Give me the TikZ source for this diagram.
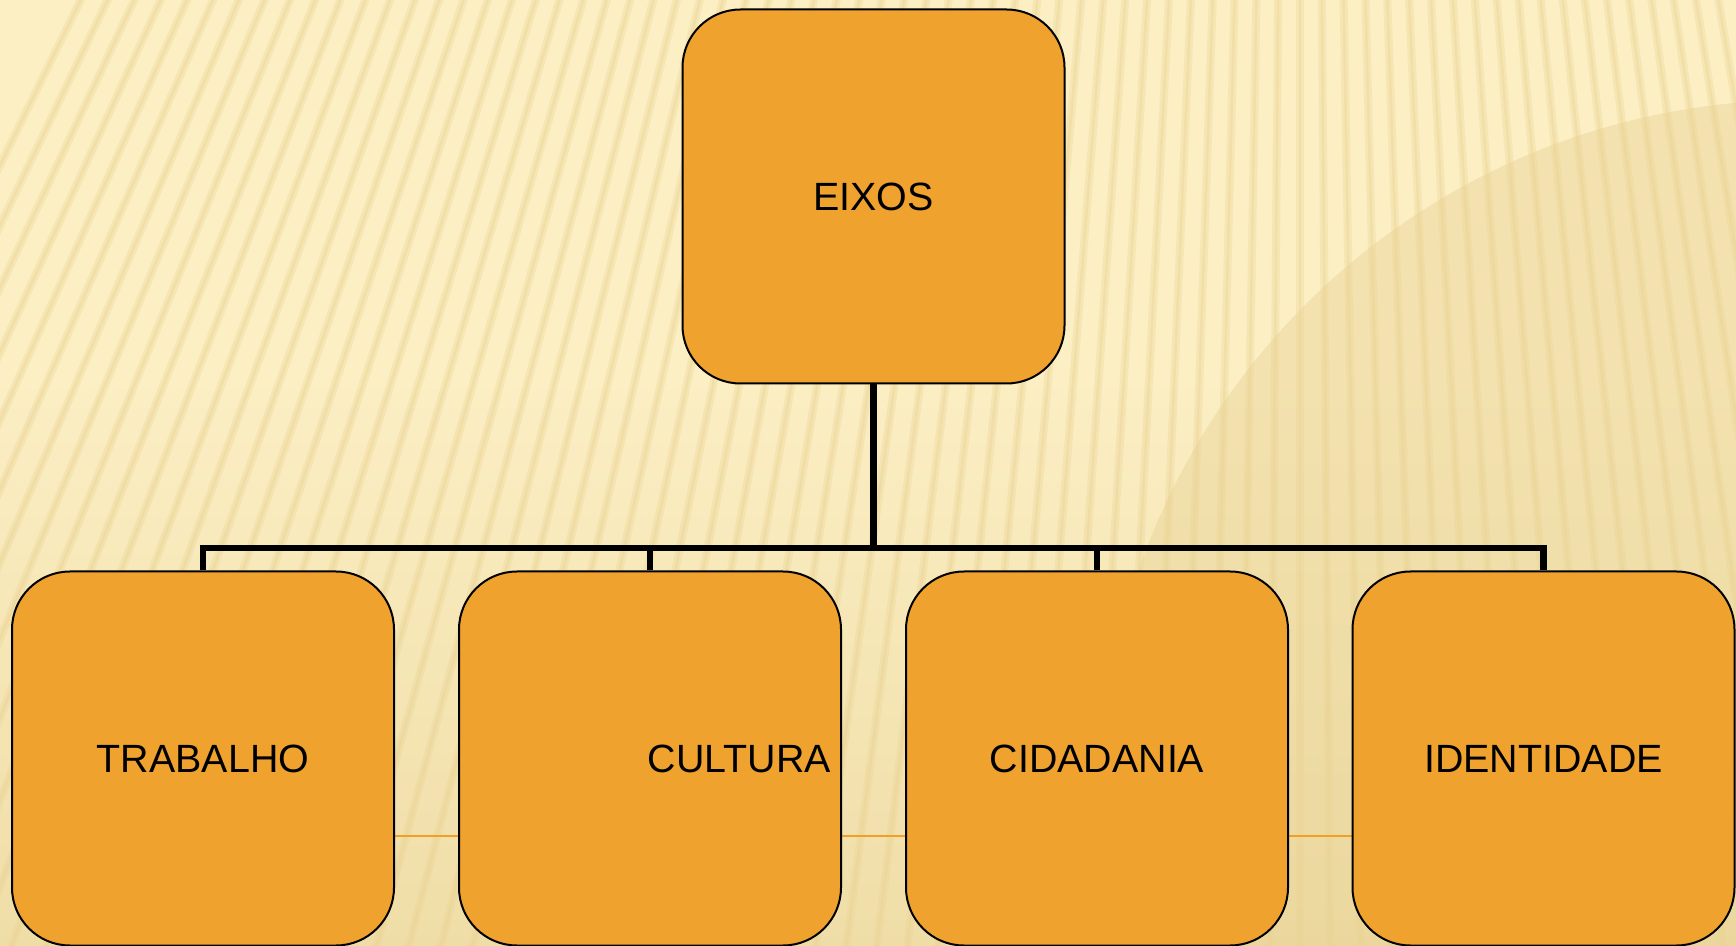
\documentclass[tikz,border=0pt]{standalone}
\usepackage{fontspec}
\setmainfont{Liberation Sans}
\definecolor{bg}{RGB}{252,239,196}
\definecolor{darktan}{RGB}{230,208,145}
\definecolor{stripecol}{RGB}{234,210,145}
\definecolor{boxfill}{RGB}{239,163,46}
\definecolor{thinorange}{RGB}{240,160,40}
\begin{document}
\begin{tikzpicture}[x=0.5pt,y=-0.5pt,
  box/.style={draw=black, line width=1pt, fill=boxfill, rounded corners=29pt,
    minimum width=191pt, minimum height=187pt, inner sep=5pt,
    font=\fontsize{19.7}{24}\selectfont},
  conn/.style={line width=3.2pt, line join=miter, draw=black},
  stripewide/.style={line width=4pt, draw=stripecol, opacity=0.3},
  stripecore/.style={line width=1.3pt, draw=stripecol, opacity=0.35}]
\fill[bg] (0,0) rectangle (1736,946);
\useasboundingbox (0,0) rectangle (1736,946);
\begin{scope}
  \clip (0,0) rectangle (1736,946);
  \shade[top color=bg, bottom color=darktan, opacity=0.55] (0,380) rectangle (1736,946);
  \fill[darktan, opacity=0.4] (1800,800) circle (700);
  \foreach \a in {78,78.5,...,116} {
    \draw[stripewide] (1300,-2500) -- ++(\a:4000);
    \draw[stripecore] (1300,-2500) -- ++(\a:4000);
  }
\end{scope}
\draw[thinorange, line width=0.75pt] (12,836) -- (1735,836);

\node[box] (top) at (873.5,196.5) {EIXOS};
\node[box] (trab) at (203,758.5) {TRABALHO};
\node[box, text width=181pt, align=right] (cult) at (650,758.5) {CULTURA};
\node[box] (cid) at (1097,758.5) {CIDADANIA};
\node[box] (ident) at (1543.5,758.5) {IDENTIDADE};

\coordinate (bar) at (873.5,548);
\draw[conn] (top.south) -- (top.south |- bar);
\draw[conn] (trab.north) -- (trab.north |- bar) -- (ident.north |- bar) -- (ident.north);
\draw[conn] (cult.north) -- (cult.north |- bar);
\draw[conn] (cid.north) -- (cid.north |- bar);
\end{tikzpicture}
\end{document}
